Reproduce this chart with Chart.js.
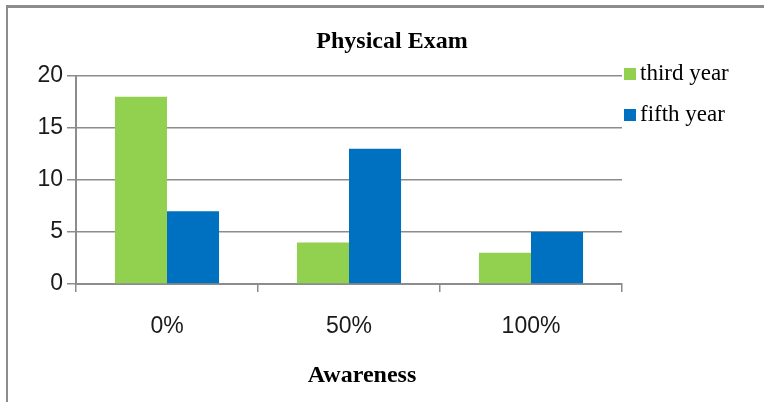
<!DOCTYPE html>
<html>
<head>
<meta charset="utf-8">
<title>Physical Exam</title>
<script src="https://cdn.jsdelivr.net/npm/chart.js@4.4.1/dist/chart.umd.min.js"></script>
<style>
  html, body { margin: 0; padding: 0; background: #fff; }
  #wrap { position: relative; width: 764px; height: 402px; }
  #frame {
    position: absolute; left: 6px; top: 5px; right: 0; bottom: 0;
    border-left: 2px solid #8c8c8c; border-top: 3px solid #8c8c8c;
    pointer-events: none;
  }
</style>
</head>
<body>
<div id="wrap">
  <canvas id="examChart"></canvas>
  <div id="frame"></div>
</div>
<script>
// Physical exam awareness by study year
const categories = ['0%', '50%', '100%'];
const seriesNames = ['third year', 'fifth year'];
const thirdYear = [18, 4, 3];
const fifthYear = [7, 13, 5];
const yTicks = [0, 5, 10, 15, 20];

const chartTitle = 'Physical Exam';
const xAxisTitle = 'Awareness';

const gridColor = '#8c8c8c';
const serif = '"Liberation Serif", "Times New Roman", serif';
const sans = '"Liberation Sans", Arial, sans-serif';

// titles and the right-hand legend are painted by hand
const labelsPlugin = {
    id: 'labels',
    afterDraw(chart) {
        const ctx = chart.ctx;
        const area = chart.chartArea;
        ctx.save();
        ctx.fillStyle = '#000';
        ctx.textBaseline = 'middle';
        ctx.textAlign = 'center';
        ctx.font = 'bold 24px ' + serif;
        ctx.fillText(chartTitle, 392, 42);
        ctx.fillText(xAxisTitle, 362, 376);

        ctx.textAlign = 'left';
        ctx.font = '23px ' + serif;
        chart.data.datasets.forEach((ds, i) => {
            const y = 74 + i * 41;
            ctx.fillStyle = ds.backgroundColor;
            ctx.fillRect(area.right + 2, y - 6, 12, 12);
            ctx.fillStyle = '#000';
            ctx.fillText(ds.label, area.right + 18, y);
        });
        ctx.restore();
    }
};

new Chart(document.getElementById('examChart'), {
    type: 'bar',
    data: {
        labels: categories,
        datasets: [
            {
                label: seriesNames[0],
                data: thirdYear,
                backgroundColor: '#92D050'
            },
            {
                label: seriesNames[1],
                data: fifthYear,
                backgroundColor: '#0070C0'
            }
        ]
    },
    options: {
        responsive: true,
        maintainAspectRatio: false,
        animation: false,
        layout: {
            padding: { left: 0, top: 76, right: 142, bottom: 0 }
        },
        datasets: {
            bar: {
                categoryPercentage: 0.572,
                barPercentage: 1.0
            }
        },
        scales: {
            x: {
                afterFit: function(scale) { scale.height = 118; },
                grid: {
                    offset: true,
                    drawOnChartArea: false,
                    color: gridColor,
                    lineWidth: 1.5,
                    tickLength: 8
                },
                border: { display: true, color: gridColor, width: 2 },
                ticks: {
                    color: '#1a1a1a',
                    padding: 21,
                    font: { family: sans, size: 23 }
                }
            },
            y: {
                min: 0,
                max: 20,
                afterFit: function(scale) { scale.width = 76; },
                afterBuildTicks: function(scale) {
                    scale.ticks = yTicks.map(v => ({ value: v }));
                },
                grid: {
                    color: gridColor,
                    lineWidth: 1.5,
                    tickLength: 9
                },
                border: { display: true, color: gridColor, width: 2 },
                ticks: {
                    color: '#1a1a1a',
                    padding: 4,
                    font: { family: sans, size: 23 }
                }
            }
        },
        plugins: {
            legend: { display: false },
            tooltip: { enabled: false },
            title: { display: false }
        }
    },
    plugins: [labelsPlugin]
});
</script>
</body>
</html>
